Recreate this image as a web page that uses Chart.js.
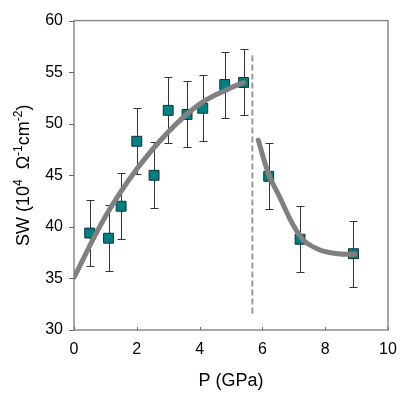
<!DOCTYPE html>
<html>
<head>
<meta charset="utf-8">
<script src="https://cdn.jsdelivr.net/npm/chart.js@4/dist/chart.umd.min.js"></script>
<style>
html,body{margin:0;padding:0;background:#fff;}
#wrap{width:409px;height:395px;position:relative;}
</style>
</head>
<body>
<div id="wrap"><canvas id="c" width="409" height="395"></canvas></div>
<script>
// Measured data
const pressure = [0.5, 1.1, 1.5, 2.0, 2.55, 3.0, 3.6, 4.1, 4.8, 5.4, 6.2, 7.2, 8.9];
const sw       = [39.4, 38.9, 42.0, 48.3, 45.0, 51.3, 50.9, 51.5, 53.8, 54.0, 44.9, 38.8, 37.4];
const swErr    = [3.2, 3.2, 3.2, 3.2, 3.2, 3.2, 3.2, 3.2, 3.2, 3.2, 3.2, 3.2, 3.2];
// Guide curves
const fitLowX  = [0, 1, 2, 3, 4, 5, 5.4];
const fitLowY  = [35.1, 41.0, 45.6, 49.2, 51.9, 53.5, 54.0];
const fitHighX = [5.87, 6.2, 6.5, 7.2, 7.8, 8.4, 8.95];
const fitHighY = [48.4, 45.1, 43.2, 39.1, 37.8, 37.4, 37.35];
// Transition marker
const transX = [5.68, 5.68];
const transY = [31.6, 56.8];
// Axes
const xTicks = [0, 2, 4, 6, 8, 10];
const yTicks = [30, 35, 40, 45, 50, 55, 60];

const FONT = '"Liberation Sans", Arial, sans-serif';
const zip = (xs, ys) => xs.map((x, i) => ({x: x, y: ys[i]}));

const decor = {
  id: 'decor',
  beforeDatasetsDraw(chart) {
    const ctx = chart.ctx, xs = chart.scales.x, ys = chart.scales.y, a = chart.chartArea;
    ctx.save();
    // frame
    ctx.strokeStyle = '#8a8a8a';
    ctx.lineWidth = 1.5;
    ctx.strokeRect(a.left, a.top, a.right - a.left, a.bottom - a.top);
    // ticks
    ctx.lineWidth = 1;
    ctx.strokeStyle = '#666';
    ctx.beginPath();
    yTicks.forEach(v => { const y = Math.round(ys.getPixelForValue(v)) + 0.5; ctx.moveTo(a.left - 5, y); ctx.lineTo(a.left, y); });
    xTicks.forEach(v => { const x = Math.round(xs.getPixelForValue(v)) + 0.5; ctx.moveTo(x, a.bottom); ctx.lineTo(x, a.bottom - 3); });
    ctx.stroke();
    // error bars
    ctx.strokeStyle = '#333';
    ctx.lineWidth = 1;
    ctx.beginPath();
    pressure.forEach((p, i) => {
      const x = Math.round(xs.getPixelForValue(p)) + 0.5;
      const yt = Math.round(ys.getPixelForValue(sw[i] + swErr[i])) + 0.5;
      const yb = Math.round(ys.getPixelForValue(sw[i] - swErr[i])) + 0.5;
      ctx.moveTo(x, yt); ctx.lineTo(x, yb);
      ctx.moveTo(x - 4, yt); ctx.lineTo(x + 4, yt);
      ctx.moveTo(x - 4, yb); ctx.lineTo(x + 4, yb);
    });
    ctx.stroke();
    ctx.restore();
  },
  afterDraw(chart) {
    const ctx = chart.ctx, a = chart.chartArea;
    ctx.save();
    ctx.fillStyle = '#000';
    // x title
    ctx.font = '18px ' + FONT;
    ctx.textAlign = 'center';
    ctx.textBaseline = 'alphabetic';
    ctx.fillText('P (GPa)', (a.left + a.right) / 2, 386);
    // y title with superscripts
    const parts = [
      ['SW (10', false], ['4', true], ['  \u03A9', false], ['-1', true], ['cm', false], ['-2', true], [')', false]
    ];
    const big = '18px ' + FONT, small = '12px ' + FONT;
    let total = 0;
    parts.forEach(p => { ctx.font = p[1] ? small : big; total += ctx.measureText(p[0]).width; });
    ctx.translate(29, (a.top + a.bottom) / 2);
    ctx.rotate(-Math.PI / 2);
    ctx.textAlign = 'left';
    let cx = -total / 2;
    parts.forEach(p => {
      ctx.font = p[1] ? small : big;
      ctx.fillText(p[0], cx, p[1] ? -7 : 0);
      cx += ctx.measureText(p[0]).width;
    });
    ctx.restore();
  }
};

new Chart(document.getElementById('c'), {
  type: 'scatter',
  data: {
    datasets: [
      { label: 'fit low', data: zip(fitLowX, fitLowY), showLine: true, pointRadius: 0, borderColor: '#808080', borderWidth: 5, tension: 0.4, borderCapStyle: 'round', order: 0 },
      { label: 'fit high', data: zip(fitHighX, fitHighY), showLine: true, pointRadius: 0, borderColor: '#808080', borderWidth: 5, tension: 0.4, borderCapStyle: 'round', order: 0 },
      { label: 'transition', data: zip(transX, transY), showLine: true, pointRadius: 0, borderColor: '#999', borderWidth: 2, borderDash: [6, 3], order: 0 },
      { label: 'SW', data: zip(pressure, sw), pointStyle: 'rect', pointRadius: 7, pointHoverRadius: 7, backgroundColor: '#008080', borderColor: '#0b3535', borderWidth: 1, order: 1 }
    ]
  },
  options: {
    responsive: false,
    animation: false,
    events: [],
    layout: { padding: { left: 0, top: 15, right: 21, bottom: 0 } },
    plugins: { legend: { display: false }, tooltip: { enabled: false } },
    scales: {
      x: {
        type: 'linear', min: 0, max: 10,
        afterFit(s) { s.height = 65; },
        afterBuildTicks(s) { s.ticks = xTicks.map(v => ({value: v})); },
        grid: { display: false, drawTicks: false },
        border: { display: false },
        ticks: { color: '#000', font: { family: FONT, size: 16 }, padding: 10, maxRotation: 0 }
      },
      y: {
        type: 'linear', min: 30, max: 60,
        afterFit(s) { s.width = 74; },
        afterBuildTicks(s) { s.ticks = yTicks.map(v => ({value: v})); },
        grid: { display: false, drawTicks: false },
        border: { display: false },
        ticks: { color: '#000', font: { family: FONT, size: 16 }, padding: 11 }
      }
    }
  },
  plugins: [decor]
});
</script>
</body>
</html>
